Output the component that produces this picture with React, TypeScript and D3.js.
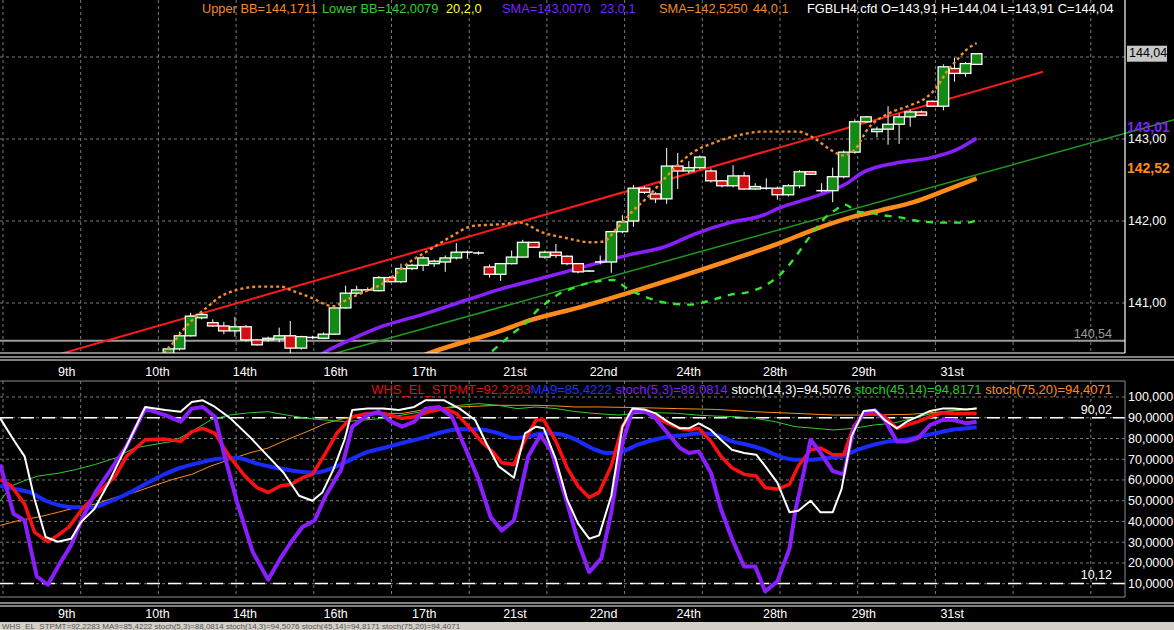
import * as d3 from 'd3'

// ---- data (bar index 0 = first bar at the left edge) ----
const FIRST_CANDLE = 15
const LAST_BAR = 88

// open, high, low, close for bars 15..88
const candles: [number, number, number, number][] = [
  [140.38, 140.47, 140.36, 140.44], [140.44, 140.65, 140.42, 140.60], [140.60, 140.88, 140.59, 140.84],
  [140.82, 140.88, 140.80, 140.86], [140.76, 140.80, 140.71, 140.72], [140.72, 140.77, 140.62, 140.66],
  [140.66, 140.83, 140.59, 140.71], [140.71, 140.73, 140.53, 140.55], [140.55, 140.56, 140.48, 140.49],
  [140.55, 140.59, 140.53, 140.57], [140.56, 140.70, 140.52, 140.60], [140.60, 140.78, 140.39, 140.45],
  [140.45, 140.60, 140.43, 140.59], [140.58, 140.60, 140.56, 140.58], [140.57, 140.64, 140.56, 140.62],
  [140.62, 140.96, 140.61, 140.94], [140.94, 141.21, 140.93, 141.12], [141.12, 141.21, 141.10, 141.16],
  [141.16, 141.19, 141.14, 141.16], [141.15, 141.33, 141.14, 141.31], [141.31, 141.33, 141.25, 141.26],
  [141.26, 141.48, 141.24, 141.42], [141.42, 141.48, 141.40, 141.46], [141.46, 141.57, 141.39, 141.55],
  [141.48, 141.53, 141.44, 141.51], [141.50, 141.58, 141.38, 141.55], [141.55, 141.73, 141.53, 141.62],
  [141.62, 141.64, 141.54, 141.62], [141.61, 141.63, 141.59, 141.61], [141.44, 141.47, 141.31, 141.35],
  [141.35, 141.48, 141.27, 141.48], [141.48, 141.64, 141.47, 141.56], [141.56, 141.77, 141.55, 141.74],
  [141.74, 141.74, 141.67, 141.68], [141.56, 141.64, 141.54, 141.62], [141.62, 141.72, 141.55, 141.58],
  [141.57, 141.58, 141.46, 141.48], [141.48, 141.49, 141.36, 141.38], [141.39, 141.40, 141.38, 141.39],
  [141.50, 141.58, 141.47, 141.50], [141.50, 141.88, 141.37, 141.87], [141.87, 142.07, 141.85, 141.99],
  [142.00, 142.44, 141.93, 142.40], [142.40, 142.42, 142.33, 142.35], [142.33, 142.35, 142.22, 142.27],
  [142.27, 142.89, 142.21, 142.67], [142.67, 142.83, 142.39, 142.61], [142.61, 142.73, 142.58, 142.65],
  [142.65, 142.80, 142.63, 142.78], [142.61, 142.64, 142.47, 142.49], [142.49, 142.50, 142.41, 142.43],
  [142.43, 142.68, 142.41, 142.55], [142.55, 142.60, 142.38, 142.39], [142.39, 142.46, 142.38, 142.42],
  [142.40, 142.52, 142.38, 142.40], [142.40, 142.42, 142.26, 142.32], [142.32, 142.45, 142.30, 142.43],
  [142.43, 142.62, 142.40, 142.60], [142.60, 142.60, 142.56, 142.57], [142.37, 142.46, 142.35, 142.37],
  [142.37, 142.65, 142.23, 142.54], [142.54, 142.86, 142.52, 142.84], [142.84, 143.24, 142.82, 143.21],
  [143.21, 143.28, 143.20, 143.27], [143.09, 143.15, 143.02, 143.12], [143.12, 143.40, 142.93, 143.18],
  [143.18, 143.31, 142.94, 143.27], [143.27, 143.36, 143.15, 143.33], [143.33, 143.35, 143.28, 143.29],
  [143.46, 143.47, 143.39, 143.40], [143.40, 143.91, 143.35, 143.88], [143.86, 143.99, 143.70, 143.80],
  [143.80, 143.94, 143.76, 143.92], [143.91, 144.04, 143.91, 144.04],
]

type Pt = [number, number] // [bar, value]

const redTrend: Pt[] = [[5, 140.37], [94, 143.82]]
const greenTrend: Pt[] = [[28, 140.31], [106, 143.24]]

const sma23: Pt[] = [
  [26, 140.05], [29, 140.39], [31.4, 140.55], [34.4, 140.72], [37.7, 140.85], [42, 141.04], [45, 141.17],
  [49.2, 141.32], [52.2, 141.43], [56.7, 141.59], [59.7, 141.68], [62.7, 141.85], [65.7, 141.98], [68.7, 142.07],
  [70.2, 142.16], [73.2, 142.29], [76.3, 142.46], [77.7, 142.59], [80.8, 142.71], [83.8, 142.77], [86.2, 142.87],
  [88, 143.01],
]

const sma44: Pt[] = [
  [36, 140.25], [38.4, 140.38], [45, 140.66], [47.7, 140.79], [52.2, 140.95], [56.7, 141.13], [61.2, 141.32],
  [65.7, 141.52], [70.2, 141.73], [73.2, 141.89], [76.8, 142.05], [79.3, 142.13], [82.3, 142.23], [85.3, 142.38],
  [88, 142.52],
]

const bbUpper: Pt[] = [
  [13.5, 140.22], [14.5, 140.38], [15.4, 140.51], [16.5, 140.70], [17.6, 140.85], [18.5, 140.95], [19.6, 141.07],
  [21.2, 141.16], [23.3, 141.20], [25.1, 141.20], [26.2, 141.15], [27.8, 141.07], [29.9, 140.96], [31.1, 141.04],
  [32.6, 141.13], [34.4, 141.24], [36.8, 141.50], [38.6, 141.65], [40.4, 141.80], [42.5, 141.94], [45, 141.96],
  [46.8, 141.98], [48.6, 141.87], [51, 141.79], [53.1, 141.74], [54.3, 141.75], [55.5, 141.91], [57, 142.13],
  [58.2, 142.28], [59.7, 142.50], [61.2, 142.71], [62.4, 142.84], [64.2, 142.95], [66.6, 143.05], [68.7, 143.09],
  [71.8, 143.09], [73.2, 143.02], [74.8, 142.87], [75.9, 142.80], [77, 142.87], [78.1, 143.11], [80.2, 143.32],
  [82, 143.41], [83.5, 143.51], [84.4, 143.63], [85.3, 143.82], [86.2, 143.96], [87.1, 144.09], [88, 144.17],
]

const bbLower: Pt[] = [
  [43.1, 140.34], [44, 140.39], [44.9, 140.49], [46.1, 140.63], [47.4, 140.77], [48.3, 140.91], [49.2, 141.01],
  [50.4, 141.12], [51.5, 141.18], [52.8, 141.24], [55.2, 141.28], [56.4, 141.18], [58.2, 141.07], [60, 141.00],
  [62.1, 140.98], [64.2, 141.04], [65.7, 141.10], [67.3, 141.13], [68.7, 141.20], [70.2, 141.34], [71.4, 141.52],
  [72.5, 141.73], [73.4, 141.89], [74.1, 142.01], [75.2, 142.13], [76.1, 142.20], [77.3, 142.11], [78.4, 142.10],
  [79.5, 142.07], [80.8, 142.05], [82.7, 142.00], [85, 141.98], [87.1, 141.98], [88, 142.01],
]

// lower panel
const stoch5: Pt[] = [
  [-0.2, 67.5], [1, 43.7], [2, 40.5], [3.1, 13.5], [4.1, 9.5], [5.1, 19], [6.2, 28.6], [7.2, 41.3], [8.4, 54],
  [9.8, 65.1], [11.2, 76.2], [12.9, 94.4], [14.7, 91.3], [16.1, 88.1], [17.1, 94.4], [18.1, 95.2], [19.2, 90.5],
  [20, 73], [21.2, 49.2], [22.6, 25.4], [24, 11.9], [25.1, 22.2], [26.1, 30.2], [27.1, 37.3], [28.2, 40.5],
  [29.2, 52.4], [30.6, 65.1], [31.6, 85.7], [33, 91.3], [34, 92.9], [35.1, 88.1], [36.1, 85.7], [37.2, 88.1],
  [38.2, 94.4], [39.4, 95.2], [40.6, 90.5], [42, 73], [43, 60.3], [44.1, 42.1], [45.1, 35.7], [46.2, 40.5],
  [47.5, 71.4], [48.6, 81.7], [49.6, 73.8], [51, 49.2], [52, 30.2], [53, 15.6], [54.1, 22.2], [55, 44.4],
  [56, 77.8], [56.9, 93.3], [58, 93.3], [59, 89.7], [60.1, 82.5], [61.2, 75.4], [62, 73], [62.9, 73.8],
  [64, 63.5], [64.9, 46], [65.9, 31.7], [67, 18.3], [68, 18.3], [68.9, 6.3], [70, 11.1], [71.1, 27],
  [71.6, 44.4], [72.5, 66.7], [73, 79.4], [73.7, 74.6], [75, 64.3], [76, 62.7], [76.9, 84.9], [77.8, 92.1],
  [78.8, 93.7], [79.7, 88.9], [80.8, 78.6], [81.7, 78.6], [82.7, 80.2], [83.8, 86.5], [84.9, 88.9], [85.9, 88.9],
  [87.1, 87.3], [88, 88.1],
]

const stpmt: Pt[] = [
  [-0.2, 60.3], [0.8, 57.1], [2, 48.4], [2.9, 34.9], [4.1, 30.2], [5, 33.3], [6, 37.3], [7.2, 46], [8.4, 52.4],
  [10.2, 61.9], [11.2, 71.4], [12.9, 79.4], [14.7, 79.7], [16.1, 78.6], [17.1, 83.3], [18.1, 84.9], [19.2, 82.5],
  [20.5, 71.4], [21.9, 61.9], [23, 56.3], [24, 54], [25.1, 57.1], [26.1, 57.9], [27.1, 61.1], [28, 62.7],
  [29.2, 73], [30.2, 82.5], [31.6, 90.5], [33, 92.1], [34.4, 92.1], [36.1, 89.7], [37.2, 90.5], [38.5, 92.9],
  [39.9, 94.4], [41, 92.1], [42.4, 84.1], [43.4, 77.8], [44.4, 73], [45.1, 68.3], [46.2, 67.5], [47.2, 79.4],
  [48.2, 88.9], [48.9, 88.9], [50, 78.6], [51, 66], [52, 57], [53, 51.6], [53.9, 54], [55, 66.7], [56, 85.7],
  [56.9, 93.7], [58, 92.9], [59, 90.5], [60.1, 87.3], [61.2, 84.9], [62, 84.1], [62.9, 84.9], [64, 78.6],
  [64.9, 71.4], [65.9, 65.9], [67, 62.7], [68.1, 61.9], [68.9, 56.3], [70, 55.6], [71.1, 57.9], [71.9, 66.7],
  [73, 74.6], [73.9, 75.4], [75, 72.2], [76, 72.2], [76.9, 85.7], [77.8, 92.1], [78.8, 92.1], [79.7, 90.5],
  [80.8, 84.9], [81.7, 86.5], [82.7, 88.1], [83.8, 90.5], [84.9, 92.4], [85.9, 92.1], [87.1, 92.1], [88, 92.2],
]

const stoch14: Pt[] = [
  [-0.2, 89.7], [1, 79.4], [2, 71.4], [2.9, 50.8], [3.9, 32.5], [5, 30.2], [6.2, 31.7], [7.1, 39.7], [8.3, 46],
  [9.6, 58.7], [11.2, 76.2], [12.9, 95.2], [14.7, 93.7], [16.1, 92.9], [17.1, 97.6], [18.1, 98.4], [19.2, 95.2],
  [20.6, 89.7], [22.3, 81], [24, 71.4], [25.4, 63.5], [26.8, 52.4], [28, 50], [28.9, 54], [29.9, 65.1],
  [30.9, 79.4], [31.6, 93.7], [33, 94.4], [34.4, 94.4], [35.8, 93.7], [37.2, 95.2], [38.2, 98.4], [39.9, 98.4],
  [41.3, 94.4], [42.7, 88.9], [43.7, 77.8], [44.8, 66.7], [46.2, 61.1], [47.2, 82.5], [48.2, 85.7], [48.9, 84.9],
  [50, 69.8], [51, 50.8], [52, 39], [53, 31.7], [53.9, 33.3], [55, 52.4], [56, 85.7], [56.9, 94.4], [58, 94],
  [59, 92.1], [60.1, 88.1], [61.2, 84.9], [62, 84.9], [62.9, 87.3], [64, 84.1], [64.9, 79.4], [65.9, 74.6],
  [67, 73], [68.1, 72.2], [68.9, 66.7], [70, 58.7], [71.1, 44.4], [71.9, 45.2], [73, 50], [73.9, 44.4],
  [75, 44.4], [75.8, 55.6], [76.7, 81], [77.8, 93.3], [78.8, 93.7], [79.7, 88.9], [80.8, 84.9], [81.7, 88.1],
  [82.7, 90.5], [83.8, 93.3], [84.9, 94.4], [85.9, 94.4], [87.1, 94], [88, 94.5],
]

const ma9: Pt[] = [
  [-0.2, 57.1], [1.2, 55.6], [2.5, 54], [3.9, 50], [5.3, 47.6], [6.7, 46.8], [8.1, 46.8], [9.5, 49.2],
  [10.9, 52.4], [12.6, 57.1], [14.3, 61.9], [16.1, 65.9], [17.8, 68.3], [19.5, 70.2], [21.2, 70.6], [23, 67.9],
  [24.7, 65.9], [26.4, 64.3], [28.2, 63.5], [29.5, 65.1], [30.9, 68.3], [32.7, 73], [34.4, 75.4], [36.1, 77.8],
  [37.9, 80.2], [39.6, 82.9], [41.3, 84.4], [43, 84.4], [44.8, 82.5], [46.2, 80.2], [47.5, 81], [48.9, 82.5],
  [50.4, 82], [51.8, 79.4], [53.2, 75.4], [54.6, 73], [56, 73.8], [57.4, 77], [58.9, 79.4], [60.3, 81],
  [61.7, 81.7], [63.1, 82.5], [64.5, 81.7], [65.9, 78.6], [67.3, 77], [68.8, 74.6], [70.2, 71.4], [71.6, 69.8],
  [73, 69.8], [74.4, 70.6], [75.8, 71.4], [77.3, 74.6], [78.7, 77], [80.1, 78.6], [81.5, 79.4], [82.9, 81],
  [84.3, 82.5], [85.7, 84.1], [87.1, 84.9], [88, 85.4],
]

const stoch45: Pt[] = [
  [-0.2, 50], [0.8, 57.1], [1.9, 59.5], [3.2, 61.9], [5, 63.2], [6.7, 65.1], [8.4, 67.5], [10.2, 70.6],
  [11.9, 75.4], [13.6, 77], [15.4, 78.6], [17.1, 83.3], [18.8, 88.9], [20.5, 91.3], [22.3, 92.4], [24, 92.9],
  [25.7, 91.3], [27.5, 89.7], [29.2, 88.9], [30.9, 88.1], [32.7, 88.9], [34.4, 89.7], [36.1, 91.3], [37.9, 92.9],
  [39.6, 94.4], [41.3, 96], [43, 96.8], [44.8, 96], [46.5, 94.4], [48.2, 95.2], [50, 94.4], [51.7, 93],
  [53.4, 92.1], [55.7, 91.3], [57.4, 92.1], [59.2, 92.4], [61, 92.1], [62.7, 91.3], [64.5, 90.8], [66.3, 90.5],
  [68, 89.7], [69.8, 88.1], [71.6, 85.7], [73.4, 84.9], [75.1, 84.1], [76.9, 84.9], [78.7, 86.5], [80.4, 87.3],
  [82.2, 89.7], [84, 92.1], [85.7, 93.3], [88, 94.8],
]

const stoch75: Pt[] = [
  [-0.2, 38.1], [1.5, 40.5], [3.2, 42.1], [5, 44.4], [6.7, 46.8], [8.4, 48.4], [10.2, 51.6], [11.9, 54],
  [13.6, 57.1], [15.4, 60.3], [17.1, 62.7], [18.8, 66.7], [20.5, 69.8], [22.3, 73], [24, 75.4], [25.7, 79.4],
  [27.5, 83.3], [29.2, 87.3], [30.9, 89.7], [32.7, 91.3], [34.4, 92.1], [36.1, 92.1], [37.9, 93.7], [39.6, 94.4],
  [41.3, 95.2], [43, 95.6], [44.8, 96], [46.5, 96], [48.2, 96], [50, 95.7], [51.7, 95.2], [53.9, 95.2],
  [57.4, 94.9], [61, 94.4], [64.5, 94], [68, 92.9], [71.6, 92.1], [75.1, 91.3], [78.7, 91.3], [82.2, 91.7],
  [85.7, 93.3], [88, 94.4],
]

const dateTicks: [string, number][] = [
  ['9th', 5.8], ['10th', 14], ['14th', 21.9], ['16th', 30.1], ['17th', 38.1], ['21st', 46.3],
  ['22nd', 54.3], ['24th', 62], ['28th', 69.8], ['29th', 77.8], ['31st', 85.8],
]

const priceTicks = [141, 142, 143]
const lowerTicks = [100, 90, 80, 70, 60, 50, 40, 30, 20, 10]
const lowLevel = 10.12
const highLevel = 90.02
const greyLevel = 140.54

const topLegend: [string, string, number][] = [
  ['Upper BB=144,1711', '#f08a2c', 202],
  ['Lower BB=142,0079', '#2fd02f', 322],
  ['20,2,0', '#ffff33', 446],
  ['SMA=143,0070', '#7a22ff', 502],
  ['23,0,1', '#7a22ff', 600],
  ['SMA=142,5250', '#f08a2c', 659],
  ['44,0,1', '#f08a2c', 753],
  ['FGBLH4.cfd O=143,91 H=144,04 L=143,91 C=144,04', '#ffffff', 807],
]

const lowerLegend: [string, string][] = [
  ['WHS_EL_STPMT=92,2283', '#e01010'],
  ['MA9=85,4222 ', '#1a33ff'],
  ['stoch(5,3)=88,0814 ', '#7f1fff'],
  ['stoch(14,3)=94,5076 ', '#ffffff'],
  ['stoch(45,14)=94,8171 ', '#22cc22'],
  ['stoch(75,20)=94,4071', '#ff8c1a'],
]

// ---- layout ----
const W = 1174
const H = 630
const AXIS_X = 1125
const PRICE_BOTTOM = 353
const LOW_TOP = 381
const LOW_BOTTOM = 597
const font = "'Liberation Sans', Arial, sans-serif"
const narrow = "'Liberation Sans Narrow', 'Liberation Sans', Arial, sans-serif"

const x = d3.scaleLinear().domain([0, LAST_BAR]).range([2.45, 2.45 + 11.07 * LAST_BAR])
const yP = d3.scaleLinear().domain([141, 144]).range([303, 57])
const yL = d3.scaleLinear().domain([10, 100]).range([583.7, 397])
const barW = 10.6

const smooth = (y: d3.ScaleLinear<number, number>) =>
  d3.line<Pt>().x(d => x(d[0])).y(d => y(d[1])).curve(d3.curveMonotoneX)
const straight = (y: d3.ScaleLinear<number, number>) =>
  d3.line<Pt>().x(d => x(d[0])).y(d => y(d[1]))

const fmt = (v: number, digits: number) => v.toFixed(digits).replace('.', ',')

const vGrid = d3.range(0, 15).map(k => 3 + k * 77.7).filter(v => v < AXIS_X)

export default function App() {
  const pLine = smooth(yP)
  const pStraight = straight(yP)
  const lSmooth = smooth(yL)
  const lLine = straight(yL)
  const lastSma23 = sma23[sma23.length - 1][1]
  const lastSma44 = sma44[sma44.length - 1][1]

  return (
    <svg width={W} height={H} style={{ position: 'fixed', left: 0, top: 0, display: 'block' }} fontFamily={font}>
      <defs>
        <clipPath id="clipPrice"><rect x={0} y={0} width={AXIS_X} height={PRICE_BOTTOM} /></clipPath>
        <clipPath id="clipPriceWide"><rect x={0} y={0} width={W} height={PRICE_BOTTOM} /></clipPath>
        <clipPath id="clipLower"><rect x={0} y={LOW_TOP} width={AXIS_X} height={LOW_BOTTOM - LOW_TOP} /></clipPath>
      </defs>
      <rect width={W} height={H} fill="#000" />

      {/* ---------- price panel ---------- */}
      <g stroke="#7a7a7a" strokeWidth={1} strokeDasharray="3 3">
        {vGrid.map(v => <line key={'pv' + v} x1={v} x2={v} y1={0} y2={PRICE_BOTTOM} />)}
        {[...priceTicks, 144].map(t => <line key={'ph' + t} x1={0} x2={AXIS_X} y1={yP(t)} y2={yP(t)} />)}
      </g>
      <line x1={0} x2={AXIS_X} y1={yP(greyLevel)} y2={yP(greyLevel)} stroke="#9a9a9a" strokeWidth={2} />
      <text x={1112} y={yP(greyLevel) - 3} textAnchor="end" fill="#9a9a9a" fontSize={12.5}>{fmt(greyLevel, 2)}</text>

      <g clipPath="url(#clipPrice)" fill="none">
        <path d={pStraight(redTrend) ?? ''} stroke="#ff1a1a" strokeWidth={2} />
        <path d={pLine(sma44) ?? ''} stroke="#ff8c1a" strokeWidth={4.5} />
        <path d={pLine(sma23) ?? ''} stroke="#8b1fff" strokeWidth={3.5} />
      </g>
      <g clipPath="url(#clipPriceWide)" fill="none">
        <path d={pStraight(greenTrend) ?? ''} stroke="#1f9a1f" strokeWidth={1.5} />
      </g>

      <g clipPath="url(#clipPrice)">
        {candles.map((c, k) => {
          const i = FIRST_CANDLE + k
          const [o, h, l, cl] = c
          const cx = x(i)
          const top = yP(Math.max(o, cl))
          const bot = yP(Math.min(o, cl))
          const doji = Math.abs(o - cl) < 0.005
          return (
            <g key={i}>
              <line x1={cx} x2={cx} y1={yP(h)} y2={yP(l)} stroke="#fff" strokeWidth={1} />
              {doji ? (
                <line x1={cx - barW / 2} x2={cx + barW / 2} y1={top} y2={top} stroke="#fff" strokeWidth={1.5} />
              ) : (
                <rect x={cx - barW / 2} y={top} width={barW} height={Math.max(bot - top, 1)}
                  fill={cl > o ? '#138a13' : '#cf1010'} stroke="#fff" strokeWidth={1.3} />
              )}
            </g>
          )
        })}
      </g>

      <g clipPath="url(#clipPrice)" fill="none">
        <path d={pLine(bbLower) ?? ''} stroke="#33e633" strokeWidth={2.4} strokeDasharray="7 7" />
        <path d={pLine(bbUpper) ?? ''} stroke="#f0902a" strokeWidth={2.4} strokeDasharray="3 3" />
      </g>

      {/* price frame */}
      <line x1={0} x2={AXIS_X} y1={PRICE_BOTTOM} y2={PRICE_BOTTOM} stroke="#fff" strokeWidth={1.2} />
      <line x1={AXIS_X} x2={AXIS_X} y1={0} y2={PRICE_BOTTOM} stroke="#fff" strokeWidth={1.2} />
      <line x1={0} x2={W} y1={357} y2={357} stroke="#fff" strokeWidth={1} />
      <line x1={0} x2={W} y1={360} y2={360} stroke="#fff" strokeWidth={1} />

      {/* price axis labels */}
      <g fontSize={12.5} fill="#fff" dominantBaseline="middle">
        {priceTicks.map(t => <text key={'pt' + t} x={1128} y={yP(t) + 1}>{fmt(t, 2)}</text>)}
      </g>
      <rect x={1127} y={yP(144.04) - 8} width={40} height={16} fill="#c8c8c8" />
      <text x={1129} y={yP(144.04)} dominantBaseline="middle" fontSize={12.5} fill="#000">{fmt(144.04, 2)}</text>
      <text x={1127} y={yP(lastSma23) - 6} fontSize={14} fontWeight="bold" fill="#7a22ff">{fmt(lastSma23, 2)}</text>
      <text x={1127} y={yP(lastSma44) - 5} fontSize={14} fontWeight="bold" fill="#ff8c1a">{fmt(lastSma44, 2)}</text>

      {/* top legend */}
      <g fontSize={12.8}>
        {topLegend.map(([t, c, px]) => <text key={t} x={px} y={13} fill={c}>{t}</text>)}
      </g>

      {/* date labels between panels */}
      <g fontFamily={narrow} fontSize={12.5} fill="#fff" textAnchor="middle">
        {dateTicks.map(([t, b]) => <text key={'d1' + t} x={x(b)} y={376}>{t}</text>)}
      </g>

      {/* ---------- lower panel ---------- */}
      <g stroke="#7a7a7a" strokeWidth={1} strokeDasharray="3 3">
        {vGrid.map(v => <line key={'lv' + v} x1={v} x2={v} y1={LOW_TOP} y2={LOW_BOTTOM} />)}
        {lowerTicks.map(t => <line key={'lh' + t} x1={0} x2={AXIS_X} y1={yL(t)} y2={yL(t)} />)}
      </g>
      <g stroke="#fff" strokeWidth={1.5} strokeDasharray="13 8">
        <line x1={0} x2={AXIS_X} y1={yL(highLevel)} y2={yL(highLevel)} />
        <line x1={0} x2={AXIS_X} y1={yL(lowLevel)} y2={yL(lowLevel)} />
      </g>
      <g fontSize={12.5} fill="#fff" textAnchor="end">
        <text x={1112} y={yL(highLevel) - 4}>{fmt(highLevel, 2)}</text>
        <text x={1112} y={yL(lowLevel) - 4}>{fmt(lowLevel, 2)}</text>
      </g>

      <g clipPath="url(#clipLower)" fill="none" strokeLinejoin="round">
        <path d={lLine(stoch75) ?? ''} stroke="#ff8c1a" strokeWidth={1} />
        <path d={lLine(stoch45) ?? ''} stroke="#33cc33" strokeWidth={1} />
        <path d={lSmooth(ma9) ?? ''} stroke="#1a2bff" strokeWidth={4} />
        <path d={lLine(stpmt) ?? ''} stroke="#ff1010" strokeWidth={3.5} />
        <path d={lLine(stoch5) ?? ''} stroke="#8a1eff" strokeWidth={4} />
        <path d={lLine(stoch14) ?? ''} stroke="#ffffff" strokeWidth={2} />
      </g>

      <text x={1112} y={394} textAnchor="end" fontSize={13}>
        {lowerLegend.map(([t, c]) => <tspan key={t} fill={c}>{t}</tspan>)}
      </text>

      {/* lower frame */}
      <line x1={0} x2={AXIS_X} y1={LOW_TOP} y2={LOW_TOP} stroke="#8a8a8a" strokeWidth={1} />
      <line x1={AXIS_X} x2={AXIS_X} y1={LOW_TOP} y2={LOW_BOTTOM} stroke="#8a8a8a" strokeWidth={1} />
      <line x1={0} x2={AXIS_X} y1={LOW_BOTTOM} y2={LOW_BOTTOM} stroke="#8a8a8a" strokeWidth={1} />
      <line x1={0} x2={W} y1={603} y2={603} stroke="#fff" strokeWidth={1} />
      <line x1={0} x2={W} y1={606} y2={606} stroke="#fff" strokeWidth={1} />

      <g fontSize={12.5} fill="#fff" dominantBaseline="middle">
        {lowerTicks.map(t => (
          <text key={'lt' + t} x={1128} y={yL(t) + 1}>{t === 100 ? '100,000' : fmt(t, 4)}</text>
        ))}
      </g>

      <g fontFamily={narrow} fontSize={12.5} fill="#fff" textAnchor="middle">
        {dateTicks.map(([t, b]) => <text key={'d2' + t} x={x(b)} y={618}>{t}</text>)}
      </g>

      {/* status bar */}
      <rect x={0} y={622} width={W} height={8} fill="#d4d0c8" />
      <text x={2} y={629} fontSize={8} fill="#555">
        WHS_EL_STPMT=92,2283 MA9=85,4222 stoch(5,3)=88,0814 stoch(14,3)=94,5076 stoch(45,14)=94,8171 stoch(75,20)=94,4071
      </text>
    </svg>
  )
}
